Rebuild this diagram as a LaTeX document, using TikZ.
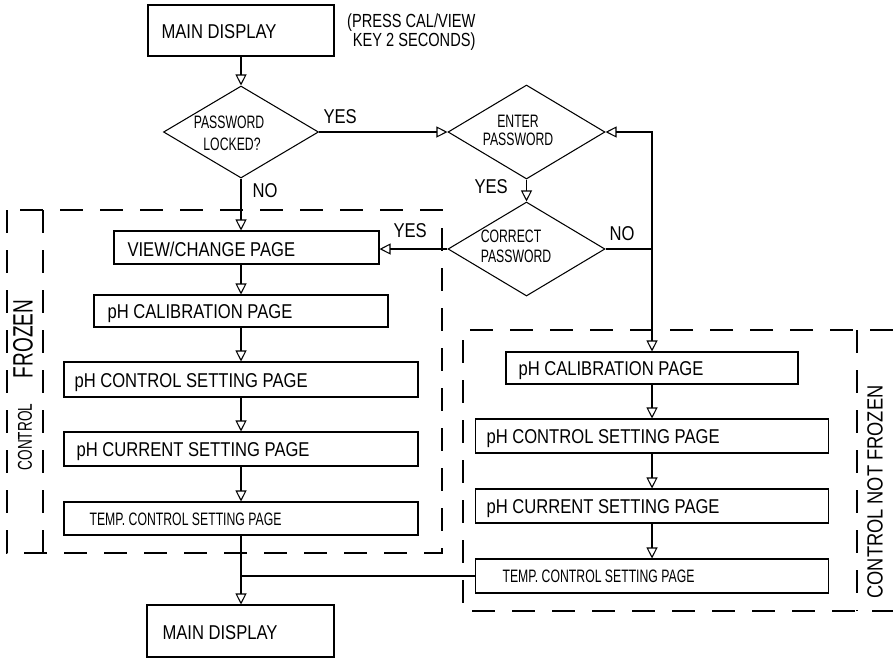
\documentclass[tikz,border=0pt]{standalone}
\usepackage{fontspec}
\setmainfont{Liberation Sans}
\newfontfamily\cadn[FakeStretch=0.83]{Liberation Sans}
\newfontfamily\cadm[FakeStretch=0.77]{Liberation Sans}
\newfontfamily\cadc[FakeStretch=0.68]{Liberation Sans}
\usetikzlibrary{arrows.meta,shapes.geometric,calc}
\begin{document}
\begin{tikzpicture}[x=0.03cm,y=-0.03cm, line width=0.9pt,
 bx/.style 2 args={draw, rectangle, inner sep=0, minimum width=#1*0.03cm, minimum height=#2*0.03cm},
 dm/.style 2 args={draw, diamond, inner sep=0, minimum width=#1*0.03cm, minimum height=#2*0.03cm},
 arr/.style={-{Triangle[open,length=3.3mm,width=3.3mm]}},
 zone/.style={dash pattern=on 0.69cm off 0.51cm},
 lbl/.style={inner sep=0, anchor=base west, font=\cadn\fontsize{17.07pt}{20pt}\selectfont},
 slbl/.style={inner sep=0, anchor=base west, font=\cadc\fontsize{15.36pt}{18pt}\selectfont},
 dlbl/.style={inner sep=0, anchor=base, font=\cadc\fontsize{15.36pt}{18pt}\selectfont},
 vlbl/.style={inner sep=0, anchor=center, rotate=90},
]
\useasboundingbox (0,0) rectangle (893,659);

% dashed zones
\draw[zone] (7,210) rectangle (442,553);
\draw[zone] (43,210) -- (43,553);
\draw[zone] (893,330) -- (463,330) -- (463,611) -- (893,611);
\draw[zone] (857,330) -- (857,611);

% boxes
\node[bx={186}{51}] (md1) at (241,30.5) {};
\node[dm={155}{92}] (d1) at (241,132) {};
\node[dm={157}{94}] (d2) at (526.5,132) {};
\node[dm={157}{94}] (d3) at (526.5,249) {};
\node[bx={265}{33}] (view) at (246.5,247.5) {};
\node[bx={294}{32}] (lcal) at (241,311) {};
\node[bx={354}{35}] (lctl) at (241,379.5) {};
\node[bx={354}{34}] (lcur) at (241,449) {};
\node[bx={354}{33}] (ltemp) at (241,518.5) {};
\node[bx={292}{32}] (rcal) at (652,368) {};
\node[bx={353}{34}] (rctl) at (652,436) {};
\node[bx={353}{34}] (rcur) at (652,506) {};
\node[bx={353}{34}] (rtemp) at (652,576) {};
\node[bx={187}{52}] (md2) at (240.5,631) {};

% texts
\node[lbl] (t-md1) at (161,38) {MAIN DISPLAY};
\node[inner sep=0, anchor=north east, align=right, font=\cadm\fontsize{16.2pt}{14.5pt}\selectfont] (t-note) at (476,13) {(PRESS CAL/VIEW\\KEY 2 SECONDS)};
\node[dlbl] (t-d1a) at (229,128) {PASSWORD};
\node[dlbl] (t-d1b) at (232,150) {LOCKED?};
\node[dlbl] (t-d2a) at (518,127) {ENTER};
\node[dlbl] (t-d2b) at (518,145) {PASSWORD};
\node[dlbl] (t-d3a) at (511,242) {CORRECT};
\node[dlbl] (t-d3b) at (516,262) {PASSWORD};
\node[lbl] (yes1) at (323,123) {YES};
\node[lbl] (no1) at (252,197) {NO};
\node[lbl] (yes2) at (474,193) {YES};
\node[lbl] (no2) at (609,240) {NO};
\node[lbl] (yes3) at (393,237) {YES};
\node[lbl] (t-view) at (127,256) {VIEW/CHANGE PAGE};
\node[lbl] (t-lcal) at (107,318) {pH CALIBRATION PAGE};
\node[lbl] (t-lctl) at (74,387) {pH CONTROL SETTING PAGE};
\node[lbl] (t-lcur) at (76,456) {pH CURRENT SETTING PAGE};
\node[slbl] (t-ltemp) at (89,525) {TEMP. CONTROL SETTING PAGE};
\node[lbl] (t-rcal) at (518,375) {pH CALIBRATION PAGE};
\node[lbl] (t-rctl) at (486,443) {pH CONTROL SETTING PAGE};
\node[lbl] (t-rcur) at (486,513) {pH CURRENT SETTING PAGE};
\node[slbl] (t-rtemp) at (502,582) {TEMP. CONTROL SETTING PAGE};
\node[lbl] (t-md2) at (162,639) {MAIN DISPLAY};
\node[vlbl, font=\cadc\fontsize{23.9pt}{28pt}\selectfont] (t-frozen) at (23,339) {FROZEN};
\node[vlbl, font=\cadc\fontsize{17.07pt}{20pt}\selectfont] (t-control) at (25,437) {CONTROL};
\node[vlbl, font=\cadn\fontsize{18.78pt}{22pt}\selectfont] (t-cnf) at (875,492) {CONTROL NOT FROZEN};

% connectors
\draw[arr] (md1.south) -- (d1.north);
\draw[arr] (d1.east) -- (d2.west);
\draw[arr] (d2.south) -- (d3.north);
\draw[arr] (d1.south) -- (d1.south |- view.north);
\draw[arr] (d3.west) -- (d3.west -| view.east);
\coordinate (j1) at (rcal.north |- d3.east);
\draw (d3.east) -- (j1);
\draw[arr] (j1) |- (d2.east);
\draw[arr] (j1) -- (rcal.north);
\draw[arr] (lcal.north |- view.south) -- (lcal.north);
\draw[arr] (lcal.south) -- (lctl.north);
\draw[arr] (lctl.south) -- (lcur.north);
\draw[arr] (lcur.south) -- (ltemp.north);
\draw[arr] (ltemp.south) -- (ltemp.south |- md2.north);
\coordinate (j2) at (ltemp.south |- rtemp.west);
\draw (rtemp.west) -- (j2);
\draw[arr] (rcal.south) -- (rcal.south |- rctl.north);
\draw[arr] (rctl.south) -- (rcur.north);
\draw[arr] (rcur.south) -- (rtemp.north);
\end{tikzpicture}
\end{document}
